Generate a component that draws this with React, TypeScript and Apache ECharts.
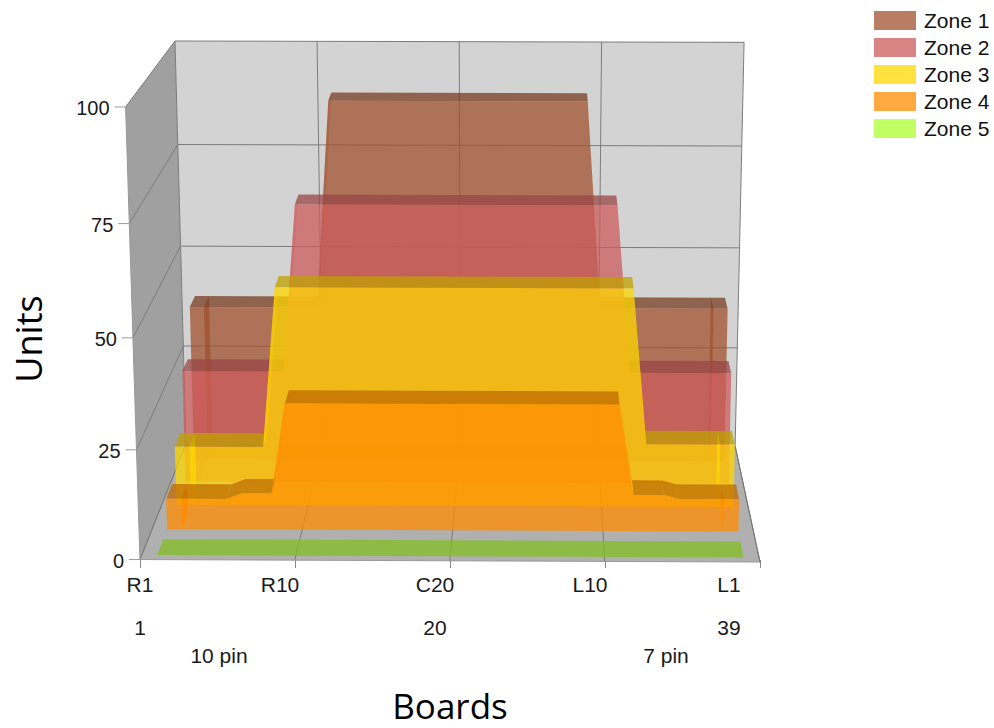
import React, { useEffect, useRef } from "react";
import * as echarts from "echarts";

const boards = [1,2,3,4,5,6,7,8,9,10,11,12,13,14,15,16,17,18,19,20,21,22,23,24,25,26,27,28,29,30,31,32,33,34,35,36,37,38,39];
const zone1 = [38,38,38,38,38,38,38,38,38,38,88,88,88,88,88,88,88,88,88,88,88,88,88,88,88,88,88,88,88,38,38,38,38,38,38,38,38,38,38];
const zone2 = [27,27,27,27,27,27,27,27,67,67,67,67,67,67,67,67,67,67,67,67,67,67,67,67,67,67,67,67,67,67,67,27,27,27,27,27,27,27,27];
const zone3 = [14,14,14,14,14,14,14,51.7,51.7,51.7,51.7,51.7,51.7,51.7,51.7,51.7,51.7,51.7,51.7,51.7,51.7,51.7,51.7,51.7,51.7,51.7,51.7,51.7,51.7,51.7,51.7,51.7,15,15,15,15,15,15,15];
const zone4 = [7.2,7.2,7.2,7.2,7.2,8.5,8.5,8.5,29.5,29.5,29.5,29.5,29.5,29.5,29.5,29.5,29.5,29.5,29.5,29.5,29.5,29.5,29.5,29.5,29.5,29.5,29.5,29.5,29.5,29.5,29.5,8.5,8.5,8.5,7.6,7.6,7.6,7.6,7.6];
const zone5 = [0,0,0,0,0,0,0,0,0,0,0,0,0,0,0,0,0,0,0,0,0,0,0,0,0,0,0,0,0,0,0,0,0,0,0,0,0,0,0];
const zoneNames = ["Zone 1", "Zone 2", "Zone 3", "Zone 4", "Zone 5"];
const zoneValues = [zone1, zone2, zone3, zone4, zone5];
const zoneRGB = [[160,82,45],[205,92,92],[255,215,0],[255,140,0],[173,255,47]];
const xTicks = [0, 10, 20, 30, 40];
const xTickNames = ["R1", "R10", "C20", "L10", "L1"];
const xTickPins = ["1", "", "20", "", "39"];
const yTicks = [0, 25, 50, 75, 100];

// camera: projective map of the unit box (X right, Y up, Z into the page)
const G = { left: 140, top: 108, width: 620, height: 453 };
const O = [140, 560.5], A = [760, 563], B = [125.6, 107], C = [186, 445];
const wa = -0.002, wb = -0.0396, wc = 0.129;
const P1 = [A[0]*(1+wa)-O[0], A[1]*(1+wa)-O[1]];
const P2 = [B[0]*(1+wb)-O[0], B[1]*(1+wb)-O[1]];
const P3 = [C[0]*(1+wc)-O[0], C[1]*(1+wc)-O[1]];
function project(X: number, Y: number, Z: number): number[] {
  const w = 1 + wa*X + wb*Y + wc*Z;
  return [
    (O[0] + P1[0]*X + P2[0]*Y + P3[0]*Z) / w,
    (O[1] + P1[1]*X + P2[1]*Y + P3[1]*Z) / w,
  ];
}
// from the axes' pixel to the box's unit coordinates, then through the camera
function place(api: any, x: number, y: number, Z: number): number[] {
  const c = api.coord([x, y]);
  return project((c[0]-G.left)/G.width, (G.top+G.height-c[1])/G.height, Z);
}
const bandFront = (i: number) => 0.035 + 0.205*(4-i);
const bandDepth = 0.125;

const rgba = (c: number[], f: number, a: number) =>
  `rgba(${Math.round(c[0]*f)},${Math.round(c[1]*f)},${Math.round(c[2]*f)},${a})`;

function poly(points: number[][], fill: string) {
  return { type: "polygon", shape: { points }, style: { fill }, silent: true };
}
function seg(a: number[], b: number[], stroke = "#7c7c7c", lineWidth = 1) {
  return { type: "line", shape: { x1: a[0], y1: a[1], x2: b[0], y2: b[1] }, style: { stroke, lineWidth, fill: "none" }, silent: true };
}

function renderFrame(params: any, api: any) {
  if (params.dataIndex !== 0) return null;
  const xMax = xTicks[xTicks.length-1], yMax = yTicks[yTicks.length-1];
  const pt = (x: number, y: number, z: number) => place(api, x, y, z);
  const kids: any[] = [
    poly([pt(0,0,1), pt(xMax,0,1), pt(xMax,yMax,1), pt(0,yMax,1)], "#d3d3d3"),
    poly([pt(0,0,0), pt(0,0,1), pt(0,yMax,1), pt(0,yMax,0)], "#a0a0a0"),
    poly([pt(0,0,0), pt(xMax,0,0), pt(xMax,0,1), pt(0,0,1)], "#b0b0b0"),
  ];
  yTicks.forEach((v) => {
    if (v > 0) kids.push(seg(pt(0,v,1), pt(xMax,v,1)));
    kids.push(seg(pt(0,v,0), pt(0,v,1)));
    const f = pt(0,v,0);
    kids.push(seg([f[0]-11, f[1]], f, "#999"));
  });
  xTicks.forEach((t) => {
    kids.push(seg(pt(t,0,0), pt(t,0,1)));
    kids.push(seg(pt(t,0,1), pt(t,yMax,1)));
  });
  kids.push(seg(pt(0,0,0), pt(0,yMax,0), "#999"));
  kids.push(seg(pt(0,0,0), pt(xMax,0,0), "#999"));
  kids.push(seg(pt(xMax,0,0), pt(xMax,0,1), "#777"));
  return { type: "group", children: kids };
}

function makeZoneRenderer(i: number) {
  return (params: any, api: any) => {
    if (params.dataIndex !== 0) return null;
    const vals = zoneValues[i], col = zoneRGB[i];
    const zf = bandFront(i), zb = zf + bandDepth;
    const kept: number[] = [];
    vals.forEach((v, k) => {
      if (k === 0 || k === vals.length-1 || vals[k-1] !== v || vals[k+1] !== v) kept.push(k);
    });
    const kids: any[] = [];
    const body = rgba(col, 1, 0.75);
    // inner walls seen through the band
    if (vals.some((v) => v > 0)) {
      [1, boards.length-2].forEach((k) => {
        kids.push(poly([
          place(api, boards[k], 0, zf), place(api, boards[k], 0, zb),
          place(api, boards[k], vals[k], zb), place(api, boards[k], vals[k], zf),
        ], body));
      });
    }
    // upper surface
    for (let n = 0; n < kept.length-1; n++) {
      const a = kept[n], b = kept[n+1];
      const steep = Math.abs(vals[a]-vals[b]) > 5;
      kids.push(poly([
        place(api, boards[a], vals[a], zf), place(api, boards[b], vals[b], zf),
        place(api, boards[b], vals[b], zb), place(api, boards[a], vals[a], zb),
      ], steep ? rgba(col, 1, 0.3) : rgba(col, 0.75, 0.75)));
    }
    // front face
    if (vals.some((v) => v > 0)) {
      const pts = kept.map((k) => place(api, boards[k], vals[k], zf));
      pts.push(place(api, boards[boards.length-1], 0, zf), place(api, boards[0], 0, zf));
      kids.push(poly(pts, body));
    }
    return { type: "group", children: kids };
  };
}

const FONT = "Liberation Sans";
const xShift = [0, 15, 15, 15, 31];

export default function App() {
  const ref = useRef<HTMLDivElement>(null);
  useEffect(() => {
    if (!ref.current) return;
    const chart = echarts.init(ref.current, undefined, { renderer: "svg" });
    const xRich: any = {};
    xTicks.forEach((t, i) => {
      xRich["n"+i] = { fontFamily: FONT, fontSize: 21, color: "#1a1a1a", lineHeight: 43, padding: [0, xShift[i]*2, 0, 0] };
    });
    const yRich: any = {};
    yTicks.forEach((v) => {
      const p = project(0, v/100, 0);
      const linear = G.top + G.height*(1 - v/100);
      const dy = p[1] + 1 - linear;
      yRich["v"+v] = {
        fontFamily: FONT, fontSize: 20, color: "#1a1a1a",
        padding: [Math.max(0, dy*2), 124 - (p[0]-16), Math.max(0, -dy*2), 0],
      };
    });
    const zoneSeries = zoneNames.map((name, i) => ({
      type: "custom",
      name,
      coordinateSystem: "cartesian2d",
      clip: false,
      z: 3 + i,
      silent: true,
      itemStyle: { color: rgba(zoneRGB[i], 1, 0.75) },
      renderItem: makeZoneRenderer(i),
      data: boards.map((b, k) => [b, zoneValues[i][k]]),
    }));
    chart.setOption({
      animation: false,
      backgroundColor: "#ffffff",
      grid: { left: G.left, top: G.top, width: G.width, height: G.height, containLabel: false },
      legend: {
        left: 874, top: 10, padding: 0, orient: "vertical", itemWidth: 42, itemHeight: 19, itemGap: 6,
        data: zoneNames.map((name) => ({ name, icon: "rect" })),
        selectedMode: false,
        textStyle: { fontFamily: FONT, fontSize: 21, color: "#111", padding: [0, 0, 0, 3] },
      },
      xAxis: {
        type: "value", min: 0, max: 40, interval: 10,
        splitLine: { show: false }, axisLine: { show: false },
        axisTick: { show: true, length: 8, lineStyle: { color: "#888" } },
        axisLabel: {
          margin: 3, hideOverlap: false, showMinLabel: true, showMaxLabel: true,
          lineHeight: 43, rich: xRich,
          formatter: (v: number) => {
            const i = xTicks.indexOf(v);
            return `{n${i}|${xTickNames[i]}}\n{n${i}|${xTickPins[i] || " "}}`;
          },
        },
        name: "Boards", nameLocation: "middle", nameGap: 128,
        nameTextStyle: { fontFamily: "Open Sans", fontSize: 35, color: "#000" },
      },
      yAxis: {
        type: "value", min: 0, max: 100, interval: 25,
        splitLine: { show: false }, axisLine: { show: false }, axisTick: { show: false },
        axisLabel: {
          margin: 16, hideOverlap: false, rich: yRich,
          formatter: (v: number) => `{v${v}|${v}}`,
        },
        name: "Units", nameLocation: "middle", nameGap: 94, nameRotate: 90,
        nameTextStyle: { fontFamily: "Open Sans", fontSize: 36, color: "#000", padding: [0, 0, 0, -10] },
      },
      graphic: [
        { type: "text", x: 219, y: 655, style: { text: "10 pin", fontFamily: FONT, fontSize: 21, fill: "#1a1a1a", align: "center", verticalAlign: "middle" } },
        { type: "text", x: 666, y: 655, style: { text: "7 pin", fontFamily: FONT, fontSize: 21, fill: "#1a1a1a", align: "center", verticalAlign: "middle" } },
      ],
      series: [
        {
          type: "custom", name: "frame", coordinateSystem: "cartesian2d", clip: false, z: 1, silent: true,
          renderItem: renderFrame, data: [[0, 0]],
        },
        ...zoneSeries,
      ],
    });
    return () => chart.dispose();
  }, []);
  return <div ref={ref} style={{ position: "fixed", left: 0, top: 0, width: 994, height: 728 }} />;
}
